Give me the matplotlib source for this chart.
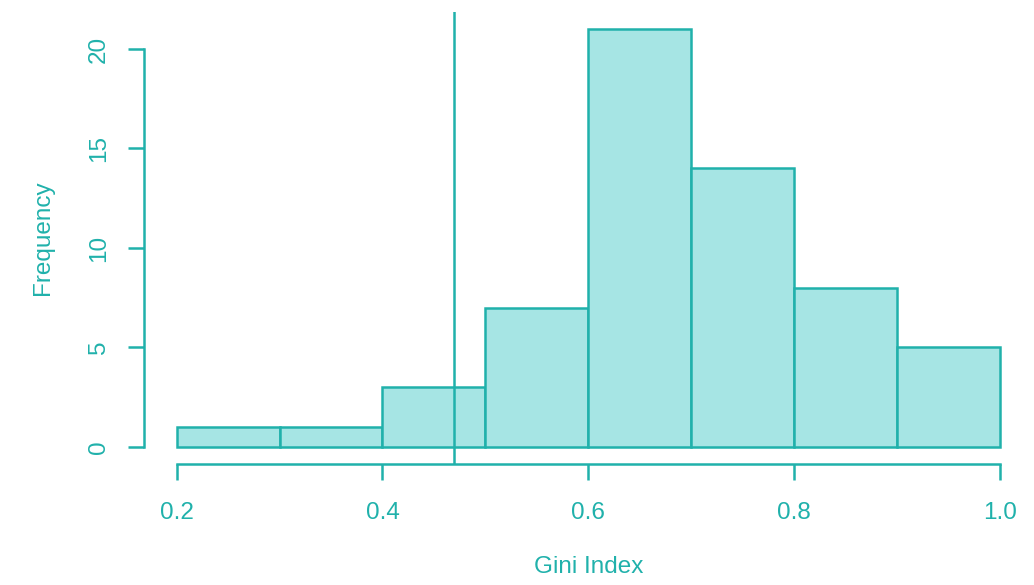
import numpy as np
import matplotlib
matplotlib.use("Agg")
import matplotlib.pyplot as plt

# histogram bins and counts
bin_edges = [0.2, 0.3, 0.4, 0.5, 0.6, 0.7, 0.8, 0.9, 1.0]
counts = [1, 1, 3, 7, 21, 14, 8, 5]
ref_line = 0.47
x_ticks = [0.2, 0.4, 0.6, 0.8, 1.0]
x_tick_labels = ["0.2", "0.4", "0.6", "0.8", "1.0"]
y_ticks = [0, 5, 10, 15, 20]

teal = "#20b1ab"
fill = "#a6e5e4"
lw = 1.8

plt.rcParams['font.family'] = ['Liberation Sans', 'DejaVu Sans']

fig = plt.figure(figsize=(10.34, 5.85), dpi=100)
ax = fig.add_axes([0.139, 0.2074, 0.8598, 0.7714])

lefts = np.array(bin_edges[:-1])
widths = np.diff(bin_edges)
ax.bar(lefts, counts, width=widths, align="edge", color=fill,
       edgecolor=teal, linewidth=lw)

ax.axvline(ref_line, color=teal, linewidth=lw)

# R style usr range (4% padding)
ax.set_xlim(0.168, 1.032)
ax.set_ylim(-0.84, 21.84)

for s in ["top", "right"]:
    ax.spines[s].set_visible(False)
ax.spines["left"].set_bounds(0, 20)
ax.spines["bottom"].set_bounds(0.2, 1.0)
for s in ["left", "bottom"]:
    ax.spines[s].set_color(teal)
    ax.spines[s].set_linewidth(lw)

ax.set_xticks(x_ticks)
ax.set_xticklabels(x_tick_labels)
ax.set_yticks(y_ticks)
ax.set_yticklabels([str(v) for v in y_ticks], rotation=90, va="center", ha="right")

ax.tick_params(axis="both", colors=teal, labelcolor=teal, length=11.5,
               width=lw, labelsize=17.5)
ax.tick_params(axis="x", pad=16)
ax.tick_params(axis="y", pad=13)

ax.set_xlabel("Gini Index", color=teal, fontsize=17.5)
ax.set_ylabel("Frequency", color=teal, fontsize=17.5)
ax.xaxis.set_label_coords(0.5, -0.229)
ax.yaxis.set_label_coords(-0.1136, 0.5)
ax.xaxis.label.set_va("center")
ax.yaxis.label.set_va("center")

plt.savefig("out.png", dpi=100, facecolor="white")
